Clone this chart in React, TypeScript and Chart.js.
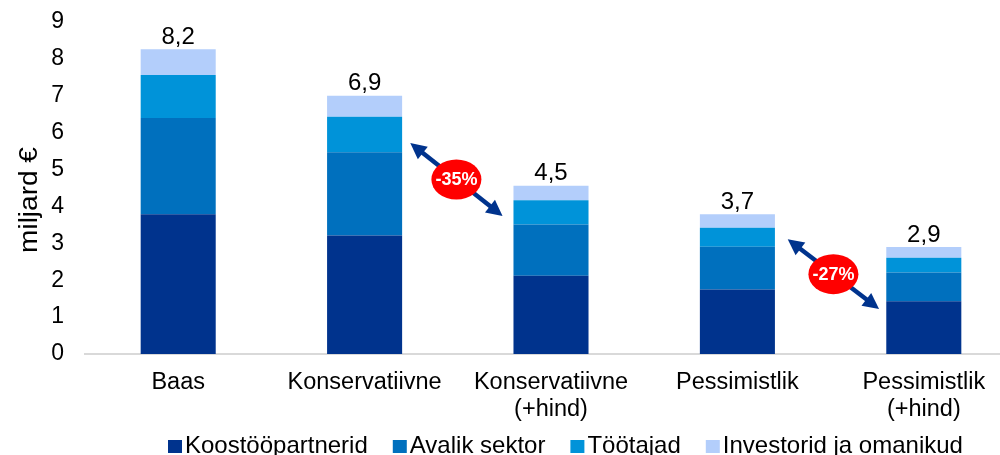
import React, { useEffect, useRef } from "react";
import { Chart, registerables } from "chart.js";

Chart.register(...registerables);

const categories: (string | string[])[] = [
  "Baas",
  "Konservatiivne",
  ["Konservatiivne", "(+hind)"],
  "Pessimistlik",
  ["Pessimistlik", "(+hind)"],
];
const koostoopartnerid = [3.79, 3.21, 2.12, 1.75, 1.43];
const avalikSektor = [2.61, 2.26, 1.39, 1.16, 0.78];
const tootajad = [1.16, 0.96, 0.66, 0.51, 0.4];
const investorid = [0.7, 0.57, 0.39, 0.37, 0.29];
const totalLabels = ["8,2", "6,9", "4,5", "3,7", "2,9"];

const seriesNames = ["Koostööpartnerid", "Avalik sektor", "Töötajad", "Investorid ja omanikud"];
const seriesColors = ["#00338D", "#0070BE", "#0093D9", "#B3CEFB"];

// change annotations (category index units / y values)
const changeLabels = ["-35%", "-27%"];
const arrowFromX = [1.245, 3.27];
const arrowFromY = [5.72, 3.11];
const arrowToX = [1.74, 3.76];
const arrowToY = [3.74, 1.22];

const yTitle = "miljard €";
const FONT = "'Liberation Sans', Arial, sans-serif";

const overlayPlugin = {
  id: "overlay",
  afterDatasetsDraw(chart: any) {
    const ctx = chart.ctx;
    const xs = chart.scales.x;
    const ys = chart.scales.y;
    // totals
    const lastMeta = chart.getDatasetMeta(chart.data.datasets.length - 1);
    ctx.save();
    ctx.fillStyle = "#000";
    ctx.font = `24px ${FONT}`;
    ctx.textAlign = "center";
    ctx.textBaseline = "middle";
    lastMeta.data.forEach((el: any, i: number) => {
      ctx.fillText(totalLabels[i], el.x, el.y - 12);
    });
    ctx.restore();

    // arrows + ellipses
    changeLabels.forEach((lab, i) => {
      const x1 = xs.getPixelForValue(arrowFromX[i]);
      const y1 = ys.getPixelForValue(arrowFromY[i]);
      const x2 = xs.getPixelForValue(arrowToX[i]);
      const y2 = ys.getPixelForValue(arrowToY[i]);
      const ang = Math.atan2(y2 - y1, x2 - x1);
      const headLen = 16;
      const headHalf = 8;
      ctx.save();
      ctx.strokeStyle = "#00338D";
      ctx.fillStyle = "#00338D";
      ctx.lineWidth = 4.5;
      ctx.beginPath();
      ctx.moveTo(x1 + Math.cos(ang) * (headLen - 2), y1 + Math.sin(ang) * (headLen - 2));
      ctx.lineTo(x2 - Math.cos(ang) * (headLen - 2), y2 - Math.sin(ang) * (headLen - 2));
      ctx.stroke();
      const head = (tx: number, ty: number, a: number) => {
        const bx = tx - Math.cos(a) * headLen;
        const by = ty - Math.sin(a) * headLen;
        ctx.beginPath();
        ctx.moveTo(tx, ty);
        ctx.lineTo(bx + Math.cos(a + Math.PI / 2) * headHalf, by + Math.sin(a + Math.PI / 2) * headHalf);
        ctx.lineTo(bx - Math.cos(a + Math.PI / 2) * headHalf, by - Math.sin(a + Math.PI / 2) * headHalf);
        ctx.closePath();
        ctx.fill();
      };
      head(x2, y2, ang);
      head(x1, y1, ang + Math.PI);
      const cx = (x1 + x2) / 2;
      const cy = (y1 + y2) / 2;
      ctx.fillStyle = "#FF0000";
      ctx.beginPath();
      ctx.ellipse(cx, cy, 25, 20, 0, 0, Math.PI * 2);
      ctx.fill();
      ctx.fillStyle = "#FFFFFF";
      ctx.font = `bold 18px ${FONT}`;
      ctx.textAlign = "center";
      ctx.textBaseline = "middle";
      ctx.fillText(lab, cx, cy + 1);
      ctx.restore();
    });
  },
  afterDraw(chart: any) {
    const ctx = chart.ctx;
    const area = chart.chartArea;
    // y title
    ctx.save();
    ctx.translate(30, 200);
    ctx.rotate(-Math.PI / 2);
    ctx.scale(1.12, 1);
    ctx.fillStyle = "#000";
    ctx.font = `25px ${FONT}`;
    ctx.textAlign = "center";
    ctx.textBaseline = "middle";
    ctx.fillText(yTitle, 0, 0);
    ctx.restore();

    // legend
    ctx.save();
    ctx.font = `24px ${FONT}`;
    ctx.textBaseline = "alphabetic";
    ctx.textAlign = "left";
    let x = area.left + 83;
    const base = 453;
    seriesNames.forEach((name, i) => {
      ctx.fillStyle = seriesColors[i];
      ctx.fillRect(x, base - 13, 14, 13);
      ctx.fillStyle = "#000";
      ctx.fillText(name, x + 17, base);
      x += 17 + ctx.measureText(name).width + 25;
    });
    ctx.restore();
  },
};

export default function App() {
  const ref = useRef<HTMLCanvasElement>(null);
  useEffect(() => {
    if (!ref.current) return;
    const values = [koostoopartnerid, avalikSektor, tootajad, investorid];
    const chart = new Chart(ref.current, {
      type: "bar",
      data: {
        labels: categories,
        datasets: values.map((v, i) => ({
          label: seriesNames[i],
          data: v,
          backgroundColor: seriesColors[i],
          borderWidth: 0,
          barPercentage: 0.4026,
          categoryPercentage: 1,
        })),
      },
      options: {
        responsive: false,
        animation: false,
        devicePixelRatio: 1,
        layout: { padding: { top: 22, right: 23, bottom: 0, left: 0 } },
        plugins: {
          legend: { display: false },
          tooltip: { enabled: false },
          title: { display: false },
        },
        scales: {
          x: {
            stacked: true,
            grid: { display: false, drawTicks: false },
            border: { display: true, color: "#D9D9D9", width: 2 },
            ticks: {
              color: "#000",
              font: { family: FONT, size: 23.5, lineHeight: 27 / 23.5 },
              padding: 15.5,
              maxRotation: 0,
              autoSkip: false,
            },
            afterFit: (s: any) => {
              s.height = 101;
            },
          },
          y: {
            stacked: true,
            min: 0,
            max: 9,
            grid: { display: false, drawTicks: false },
            border: { display: false },
            ticks: {
              stepSize: 1,
              color: "#000",
              font: { family: FONT, size: 23 },
              padding: 21,
            },
            afterFit: (s: any) => {
              s.width = 85;
              s.paddingTop = 10;
              s.paddingBottom = 10;
            },
          },
        },
      },
      plugins: [overlayPlugin],
    });
    return () => chart.destroy();
  }, []);
  return (
    <div
      style={{
        position: "absolute",
        left: 0,
        top: 0,
        width: 1000,
        height: 455,
        overflow: "hidden",
        background: "#fff",
      }}
    >
      <canvas ref={ref} width={1040} height={455} style={{ width: 1040, height: 455, display: "block" }} />
    </div>
  );
}
